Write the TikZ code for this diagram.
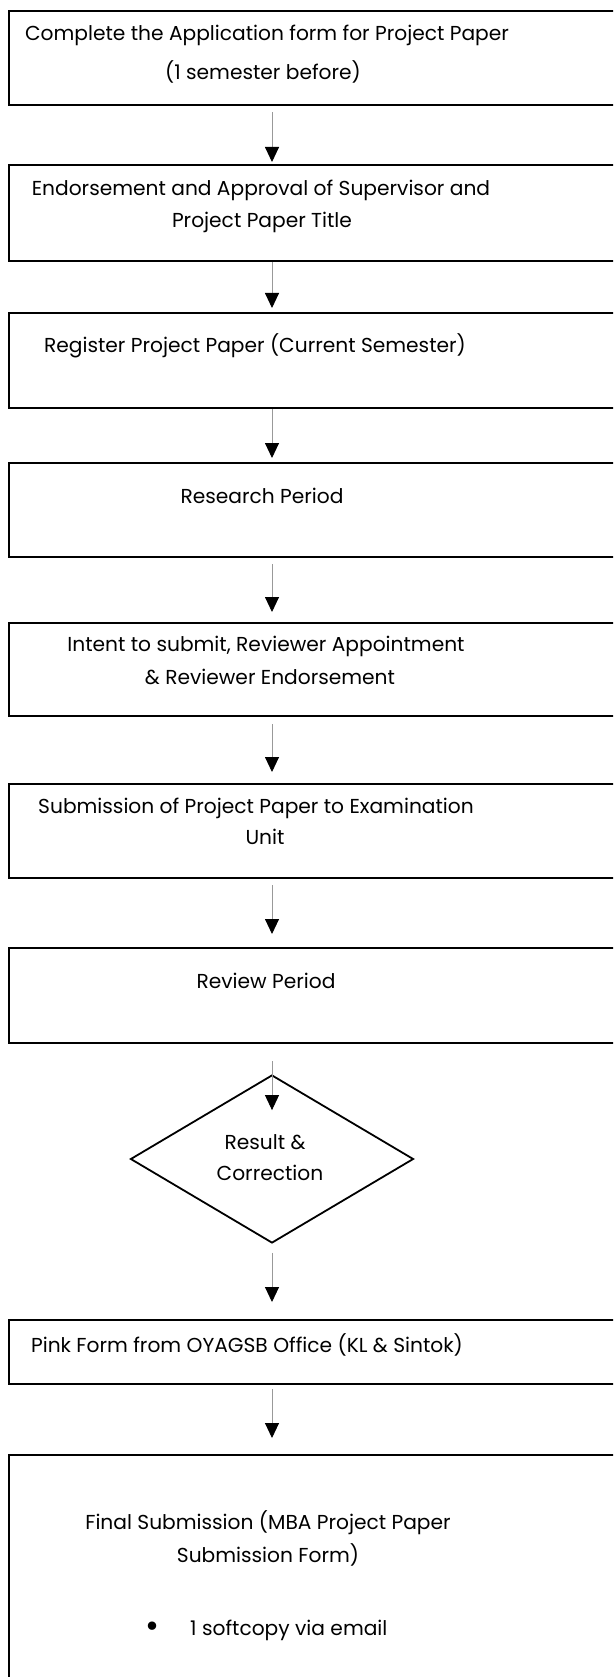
\documentclass[tikz,border=0pt]{standalone}
\usepackage{fontspec}
\setmainfont{Poppins}
\usetikzlibrary{arrows.meta,shapes.geometric}
\begin{document}
\begin{tikzpicture}[x=1pt,y=-1pt,
  stepbox/.style={draw=black, line width=2.3pt, rectangle, anchor=north west,
    minimum height=#1, minimum width=660pt, inner sep=0pt},
  decide/.style={draw=black, line width=1.8pt, diamond, minimum width=283pt,
    minimum height=168pt, inner sep=0pt},
  lbl/.style={font=\fontsize{20.2}{22}\selectfont, inner sep=0pt, anchor=center},
  arr/.style={draw=gray!80, line width=0.9pt, -{Triangle[width=14pt,length=15pt,color=black]}}
]
\useasboundingbox (0,0) rectangle (613,1677);
\clip (0,0) rectangle (613,1677);
\fill[white] (0,0) rectangle (613,1677);
\coordinate (ax) at (272,0);

\node[stepbox=94pt] (b1) at (8,10) {};
\node[stepbox=96pt] (b2) at (8,164) {};
\node[stepbox=95pt] (b3) at (8,312) {};
\node[stepbox=94pt] (b4) at (8,462) {};
\node[stepbox=93pt] (b5) at (8,622) {};
\node[stepbox=94pt] (b6) at (8,783) {};
\node[stepbox=95pt] (b7) at (8,947) {};
\node[decide] (dia) at (272,1159) {};
\node[stepbox=64pt] (b8) at (8,1319) {};
\node[stepbox=300pt] (b9) at (8,1454) {};

\node[lbl] (t1a) at (267,35) {Complete the Application form for Project Paper};
\node[lbl] (t1b) at (263,72) {(1 semester before)};
\node[lbl] (t2a) at (261,190) {Endorsement and Approval of Supervisor and};
\node[lbl] (t2b) at (262,222) {Project Paper Title};
\node[lbl] (t3) at (255,346) {Register Project Paper (Current Semester)};
\node[lbl] (t4) at (262,496) {Research Period};
\node[lbl] (t5a) at (266,646) {Intent to submit, Reviewer Appointment};
\node[lbl] (t5b) at (270,677) {\& Reviewer Endorsement};
\node[lbl] (t6a) at (256,808) {Submission of Project Paper to Examination};
\node[lbl] (t6b) at (265,837) {Unit};
\node[lbl] (t7) at (266,981) {Review Period};
\node[lbl] (t8a) at (265,1142) {Result \&};
\node[lbl] (t8b) at (270,1173) {Correction};
\node[lbl] (t9) at (247,1345) {Pink Form from OYAGSB Office (KL \& Sintok)};
\node[lbl] (t10a) at (268,1523) {Final Submission (MBA Project Paper};
\node[lbl] (t10b) at (268,1555) {Submission Form)};
\node[lbl, font=\fontsize{34}{36}\selectfont] (bul) at (153,1630) {\textbullet};
\node[lbl, anchor=west] (t10c) at (190,1630) {1 softcopy via email};

\draw[arr, shorten <=6pt, shorten >=2pt] (b1.south -| ax) -- (b2.north -| ax);
\draw[arr, shorten <=0pt, shorten >=4pt] (b2.south -| ax) -- (b3.north -| ax);
\draw[arr, shorten <=0pt, shorten >=4pt] (b3.south -| ax) -- (b4.north -| ax);
\draw[arr, shorten <=6pt, shorten >=10pt] (b4.south -| ax) -- (b5.north -| ax);
\draw[arr, shorten <=7pt, shorten >=11pt] (b5.south -| ax) -- (b6.north -| ax);
\draw[arr, shorten <=6pt, shorten >=13pt] (b6.south -| ax) -- (b7.north -| ax);
\draw[arr, shorten <=17pt, shorten >=-36pt] (b7.south -| ax) -- (dia.north);
\draw[arr, shorten <=9pt, shorten >=17pt] (dia.south) -- (b8.north -| ax);
\draw[arr, shorten <=4pt, shorten >=16pt] (b8.south -| ax) -- (b9.north -| ax);
\end{tikzpicture}
\end{document}
